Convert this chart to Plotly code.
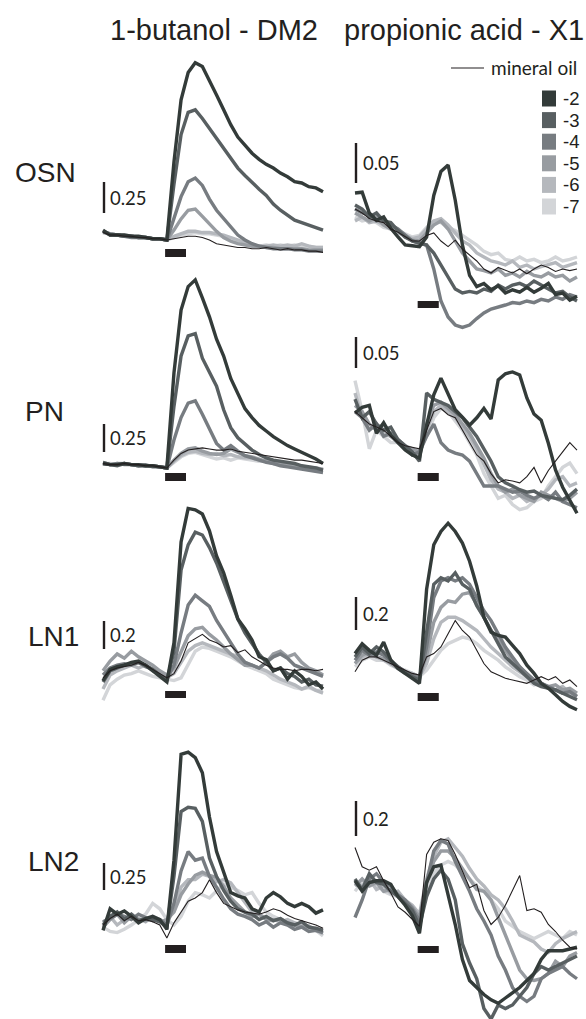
import plotly.graph_objects as go

# ---------------- data ----------------
TIME = list(range(32))
CONCS = ["-2", "-3", "-4", "-5", "-6", "-7"]
MINERAL = "mineral oil"
COLUMN_TITLES = ["1-butanol - DM2", "propionic acid - X1"]
ROW_LABELS = ["OSN", "PN", "LN1", "LN2"]
SCALE_VALUES = [0.25, 0.25, 0.2, 0.25, 0.05, 0.05, 0.2, 0.2]
SCALE_LABELS = ["0.25", "0.25", "0.2", "0.25", "0.05", "0.05", "0.2", "0.2"]
STIM_ON, STIM_OFF = 8.75, 11.7

osn_butanol = {
    "-2": [0.08,0.04,0.04,0.04,0.03,0.03,0.02,0.01,0.01,0.0,0.63,1.13,1.35,1.43,1.40,1.29,1.17,1.05,0.93,0.83,0.76,0.70,0.65,0.61,0.58,0.54,0.51,0.47,0.46,0.43,0.42,0.39],
    "-3": [0.07,0.04,0.04,0.03,0.03,0.02,0.02,0.01,0.01,0.0,0.45,0.85,1.03,1.05,0.98,0.90,0.82,0.74,0.66,0.58,0.52,0.46,0.41,0.36,0.29,0.24,0.20,0.16,0.14,0.12,0.10,0.08],
    "-4": [0.07,0.05,0.04,0.03,0.02,0.02,0.02,0.01,0.01,0.0,0.18,0.35,0.47,0.50,0.44,0.33,0.24,0.17,0.10,0.04,0.0,-0.03,-0.05,-0.06,-0.07,-0.07,-0.07,-0.08,-0.08,-0.09,-0.09,-0.09],
    "-5": [0.07,0.05,0.04,0.03,0.03,0.02,0.02,0.01,0.01,0.0,0.08,0.17,0.24,0.25,0.19,0.13,0.07,0.02,-0.01,-0.03,-0.04,-0.05,-0.05,-0.06,-0.06,-0.07,-0.07,-0.07,-0.07,-0.08,-0.08,-0.08],
    "-6": [0.06,0.05,0.04,0.03,0.03,0.02,0.02,0.01,0.01,0.0,0.03,0.05,0.07,0.07,0.06,0.06,0.05,0.04,0.02,0.0,-0.02,-0.04,-0.05,-0.05,-0.04,-0.05,-0.04,-0.05,-0.03,-0.05,-0.06,-0.06],
    "-7": [0.06,0.05,0.04,0.04,0.03,0.02,0.02,0.01,0.01,0.0,0.02,0.04,0.05,0.06,0.05,0.05,0.04,0.03,0.01,-0.01,-0.03,-0.04,-0.05,-0.04,-0.05,-0.04,-0.05,-0.04,-0.05,-0.05,-0.06,-0.06],
    "mineral oil": [0.06,0.04,0.04,0.03,0.03,0.02,0.02,0.01,0.01,0.0,0.01,0.02,0.03,0.03,0.02,0.0,-0.03,-0.04,-0.05,-0.06,-0.06,-0.07,-0.07,-0.06,-0.07,-0.08,-0.07,-0.08,-0.08,-0.09,-0.09,-0.10],
}

pn_butanol = {
    "-2": [0.04,0.03,0.03,0.04,0.03,0.03,0.02,0.02,0.01,0.0,0.85,1.41,1.62,1.68,1.52,1.35,1.15,1.00,0.80,0.66,0.53,0.45,0.38,0.33,0.28,0.24,0.20,0.17,0.14,0.11,0.08,0.04],
    "-3": [0.05,0.03,0.02,0.04,0.03,0.02,0.02,0.02,0.01,0.0,0.55,1.00,1.18,1.20,0.98,0.86,0.73,0.52,0.36,0.27,0.21,0.16,0.12,0.09,0.07,0.06,0.05,0.04,0.02,0.01,0.0,-0.02],
    "-4": [0.04,0.03,0.04,0.03,0.03,0.02,0.03,0.01,0.01,0.0,0.25,0.45,0.58,0.60,0.48,0.35,0.22,0.16,0.20,0.15,0.11,0.09,0.07,0.05,0.04,0.02,0.01,0.0,-0.01,-0.02,-0.03,-0.04],
    "-5": [0.04,0.03,0.03,0.04,0.03,0.03,0.02,0.02,0.01,0.0,0.07,0.13,0.17,0.18,0.15,0.13,0.12,0.13,0.17,0.14,0.11,0.10,0.08,0.06,0.05,0.04,0.03,0.02,0.01,0.0,-0.01,-0.02],
    "-6": [0.05,0.03,0.04,0.04,0.03,0.02,0.02,0.02,0.01,0.0,0.06,0.11,0.14,0.15,0.13,0.12,0.13,0.11,0.12,0.10,0.09,0.09,0.07,0.06,0.04,0.04,0.02,0.02,0.01,0.0,0.0,-0.01],
    "-7": [0.04,0.04,0.03,0.04,0.03,0.03,0.02,0.01,0.01,0.0,0.05,0.10,0.13,0.14,0.12,0.10,0.08,0.09,0.07,0.09,0.08,0.07,0.06,0.06,0.04,0.03,0.03,0.02,0.01,0.01,0.0,-0.01],
    "mineral oil": [0.04,0.03,0.03,0.04,0.03,0.03,0.02,0.02,0.01,0.0,0.07,0.13,0.16,0.17,0.18,0.17,0.16,0.16,0.17,0.15,0.14,0.13,0.12,0.11,0.10,0.09,0.08,0.07,0.07,0.06,0.05,0.04],
}

ln1_butanol = {
    "-2": [0.01,0.09,0.11,0.12,0.14,0.15,0.12,0.08,0.04,0.0,0.28,1.0,1.24,1.23,1.20,1.08,0.90,0.78,0.62,0.45,0.38,0.30,0.18,0.16,0.08,0.10,0.02,0.08,0.04,-0.02,0.0,-0.05],
    "-3": [0.0,0.08,0.10,0.12,0.13,0.14,0.12,0.09,0.05,0.01,0.22,0.80,0.98,1.07,1.05,0.96,0.85,0.72,0.58,0.45,0.35,0.27,0.20,0.14,0.08,0.10,0.06,0.04,0.0,0.02,-0.02,-0.03],
    "-4": [0.05,0.10,0.12,0.13,0.12,0.14,0.11,0.09,0.05,0.02,0.12,0.35,0.55,0.62,0.58,0.54,0.44,0.36,0.28,0.20,0.14,0.12,0.10,0.14,0.18,0.20,0.17,0.12,0.10,0.08,0.06,0.04],
    "-5": [0.08,0.15,0.20,0.17,0.22,0.18,0.15,0.12,0.08,0.05,0.10,0.22,0.33,0.38,0.39,0.34,0.30,0.25,0.20,0.16,0.12,0.12,0.10,0.14,0.20,0.22,0.18,0.20,0.14,0.10,0.08,0.05],
    "-6": [-0.05,0.05,0.08,0.10,0.12,0.10,0.12,0.08,0.06,0.03,0.06,0.14,0.22,0.26,0.28,0.26,0.24,0.22,0.20,0.18,0.14,0.12,0.10,0.08,0.05,0.02,0.0,-0.02,-0.05,-0.03,-0.06,-0.08],
    "-7": [-0.13,-0.02,0.02,0.05,0.06,0.08,0.06,0.04,0.03,0.02,0.01,0.03,0.12,0.22,0.25,0.24,0.22,0.20,0.18,0.15,0.12,0.10,0.08,0.06,0.02,0.0,-0.02,-0.04,-0.05,-0.04,-0.06,-0.06],
    "mineral oil": [0.03,0.08,0.10,0.11,0.12,0.14,0.12,0.09,0.06,0.03,0.06,0.15,0.28,0.31,0.34,0.30,0.28,0.25,0.26,0.21,0.23,0.18,0.15,0.12,0.10,0.09,0.09,0.08,0.09,0.09,0.08,0.09],
}

ln2_butanol = {
    "-2": [-0.05,0.15,0.10,0.13,0.08,0.02,0.06,0.08,0.05,-0.04,0.60,1.58,1.60,1.55,1.41,1.00,0.68,0.50,0.30,0.27,0.25,0.15,0.12,0.25,0.30,0.26,0.20,0.17,0.20,0.17,0.11,0.14],
    "-3": [0.0,0.08,0.12,0.05,0.10,0.04,0.06,0.05,0.03,-0.02,0.45,1.05,1.09,1.08,0.96,0.62,0.45,0.32,0.22,0.15,0.12,0.10,0.05,0.08,0.04,0.06,0.02,0.0,0.03,-0.02,-0.03,-0.05],
    "-4": [0.03,0.06,0.10,0.08,0.05,0.10,0.07,0.04,0.05,0.0,0.20,0.50,0.68,0.60,0.62,0.45,0.35,0.24,0.15,0.10,0.08,0.05,0.0,0.03,-0.02,0.02,0.0,-0.04,-0.02,-0.06,-0.05,-0.07],
    "-5": [-0.02,0.05,0.10,0.02,0.08,0.05,0.04,0.06,0.03,0.05,0.12,0.28,0.38,0.46,0.49,0.46,0.44,0.36,0.25,0.18,0.12,0.08,0.10,0.05,0.04,0.06,0.02,0.0,-0.02,-0.01,-0.05,-0.06],
    "-6": [0.02,0.08,0.0,0.05,0.10,0.06,0.03,0.08,0.05,0.02,0.15,0.35,0.42,0.42,0.47,0.45,0.40,0.42,0.39,0.30,0.20,0.12,0.10,0.06,0.05,0.03,0.05,0.02,0.0,-0.03,-0.05,-0.08],
    "-7": [-0.02,-0.06,-0.07,-0.04,0.0,0.05,0.10,0.20,0.15,0.05,0.0,0.08,0.22,0.30,0.28,0.25,0.32,0.38,0.35,0.32,0.28,0.30,0.20,0.12,0.08,0.05,0.03,0.02,0.0,-0.02,-0.05,-0.10],
    "mineral oil": [0.0,0.06,0.10,0.04,0.08,0.04,0.05,0.03,0.0,-0.12,0.02,0.12,0.22,0.25,0.30,0.42,0.30,0.20,0.17,0.14,0.12,0.11,0.10,0.12,0.15,0.13,0.09,0.06,0.04,0.02,0.0,-0.03],
}

osn_propionic = {
    "-2": [0.065,0.066,0.04,0.031,0.035,0.021,0.01,0.0,-0.001,-0.002,0.01,0.062,0.092,0.10,0.056,0.0,-0.038,-0.052,-0.048,-0.056,-0.051,-0.06,-0.056,-0.059,-0.053,-0.059,-0.054,-0.048,-0.062,-0.06,-0.069,-0.064],
    "-3": [0.05,0.045,0.035,0.04,0.03,0.028,0.018,0.01,0.005,0.002,0.0,-0.01,-0.025,-0.04,-0.055,-0.06,-0.058,-0.06,-0.055,-0.058,-0.05,-0.055,-0.05,-0.048,-0.052,-0.045,-0.05,-0.055,-0.06,-0.058,-0.065,-0.07],
    "-4": [0.045,0.04,0.038,0.03,0.032,0.025,0.02,0.012,0.005,0.002,0.0,-0.03,-0.07,-0.09,-0.10,-0.103,-0.10,-0.092,-0.085,-0.08,-0.078,-0.075,-0.072,-0.073,-0.07,-0.072,-0.068,-0.07,-0.065,-0.068,-0.062,-0.065],
    "-5": [0.04,0.035,0.03,0.035,0.025,0.02,0.018,0.01,0.006,0.005,0.015,0.025,0.03,0.02,0.005,-0.01,-0.02,-0.03,-0.032,-0.035,-0.03,-0.038,-0.035,-0.04,-0.033,-0.038,-0.04,-0.035,-0.04,-0.038,-0.045,-0.04],
    "-6": [0.03,0.035,0.028,0.03,0.025,0.02,0.015,0.012,0.008,0.01,0.02,0.03,0.033,0.025,0.015,0.005,0.0,-0.01,-0.015,-0.02,-0.022,-0.025,-0.02,-0.028,-0.025,-0.03,-0.027,-0.025,-0.022,-0.028,-0.025,-0.022],
    "-7": [0.035,0.03,0.032,0.028,0.022,0.02,0.018,0.014,0.01,0.012,0.022,0.03,0.028,0.022,0.018,0.012,0.006,0.0,-0.008,-0.012,-0.01,-0.018,-0.02,-0.015,-0.02,-0.018,-0.022,-0.02,-0.015,-0.02,-0.018,-0.015],
    "mineral oil": [0.045,0.04,0.033,0.03,0.028,0.02,0.016,0.01,0.005,0.005,0.012,0.015,0.005,-0.002,0.006,-0.005,-0.012,-0.02,-0.03,-0.035,-0.028,-0.032,-0.035,-0.03,-0.036,-0.03,-0.025,-0.028,-0.033,-0.03,-0.032,-0.03],
}

pn_propionic = {
    "-2": [0.068,0.077,0.08,0.035,0.052,0.032,0.02,0.008,0.0,-0.005,0.048,0.097,0.124,0.097,0.073,0.061,0.048,0.06,0.075,0.058,0.121,0.131,0.134,0.129,0.092,0.066,0.056,0.019,-0.024,-0.052,-0.073,-0.094],
    "-3": [0.09,0.06,0.07,0.05,0.04,0.045,0.025,0.015,0.005,-0.01,0.10,0.09,0.085,0.08,0.07,0.06,0.045,0.03,0.01,-0.01,-0.035,-0.045,-0.05,-0.056,-0.06,-0.058,-0.065,-0.068,-0.07,-0.072,-0.065,-0.055],
    "-4": [0.07,0.06,0.04,0.05,0.03,0.035,0.02,0.012,0.0,0.005,0.03,0.05,0.02,0.008,0.003,0.0,-0.01,-0.03,-0.05,-0.05,-0.05,-0.055,-0.06,-0.058,-0.065,-0.07,-0.065,-0.072,-0.06,-0.075,-0.08,-0.085],
    "-5": [0.08,0.07,0.05,0.04,0.05,0.03,0.025,0.015,0.01,0.005,0.05,0.08,0.085,0.075,0.065,0.05,0.035,0.015,-0.005,-0.03,-0.05,-0.06,-0.055,-0.065,-0.07,-0.075,-0.06,-0.065,-0.07,-0.075,-0.07,-0.06],
    "-6": [0.10,0.06,0.04,0.05,0.035,0.03,0.02,0.01,0.01,0.0,0.04,0.07,0.08,0.07,0.06,0.045,0.03,0.01,-0.015,-0.04,-0.055,-0.06,-0.07,-0.065,-0.075,-0.07,-0.065,-0.055,-0.04,-0.035,-0.05,-0.045],
    "-7": [0.12,0.07,0.01,0.04,0.03,0.02,0.02,0.015,0.0,0.005,0.03,0.06,0.075,0.07,0.055,0.04,0.02,0.0,-0.03,-0.05,-0.07,-0.065,-0.08,-0.088,-0.085,-0.075,-0.07,-0.05,-0.035,-0.02,-0.013,-0.03],
    "mineral oil": [0.07,0.06,0.05,0.045,0.04,0.03,0.02,0.015,0.012,0.01,0.04,0.07,0.075,0.065,0.06,0.04,0.02,0.0,-0.01,-0.03,-0.045,-0.04,-0.042,-0.045,-0.035,-0.02,-0.045,-0.025,-0.01,0.005,0.02,0.008],
}

ln1_propionic = {
    "-2": [0.16,0.22,0.18,0.15,0.23,0.12,0.07,0.04,0.01,-0.02,0.55,0.82,0.90,0.95,0.90,0.83,0.72,0.57,0.38,0.29,0.27,0.26,0.21,0.16,0.09,0.04,-0.02,-0.05,-0.09,-0.13,-0.16,-0.18],
    "-3": [0.14,0.20,0.16,0.20,0.17,0.12,0.08,0.05,0.02,0.0,0.30,0.58,0.62,0.60,0.65,0.58,0.55,0.45,0.38,0.30,0.22,0.14,0.10,0.06,0.02,-0.02,-0.04,-0.05,-0.06,-0.08,-0.10,-0.12],
    "-4": [0.12,0.18,0.15,0.17,0.15,0.11,0.08,0.05,0.03,0.01,0.20,0.50,0.60,0.62,0.60,0.62,0.58,0.50,0.42,0.36,0.28,0.20,0.14,0.08,0.04,0.0,-0.02,-0.04,-0.06,-0.08,-0.07,-0.10],
    "-5": [0.10,0.15,0.17,0.14,0.13,0.10,0.07,0.04,0.03,0.02,0.15,0.35,0.44,0.48,0.47,0.52,0.53,0.46,0.38,0.30,0.24,0.18,0.12,0.08,0.03,0.0,-0.02,-0.04,-0.03,-0.06,-0.05,-0.08],
    "-6": [0.10,0.14,0.16,0.14,0.12,0.10,0.08,0.05,0.04,0.02,0.10,0.25,0.35,0.38,0.38,0.36,0.33,0.30,0.25,0.20,0.16,0.12,0.08,0.05,0.02,0.0,-0.03,-0.05,-0.06,-0.04,-0.08,-0.10],
    "-7": [0.08,0.12,0.14,0.12,0.12,0.09,0.07,0.06,0.04,0.02,0.06,0.12,0.18,0.22,0.24,0.26,0.25,0.22,0.18,0.15,0.12,0.08,0.05,0.02,0.0,-0.03,-0.02,-0.05,-0.06,-0.08,-0.07,-0.10],
    "mineral oil": [0.05,0.12,0.14,0.14,0.12,0.10,0.08,0.06,0.04,0.03,0.14,0.16,0.20,0.28,0.36,0.30,0.26,0.18,0.10,0.05,0.03,0.01,0.0,-0.01,-0.02,0.0,0.02,0.0,0.02,-0.02,0.0,-0.04],
}

ln2_propionic = {
    "-2": [0.11,0.05,0.10,0.11,0.11,0.09,0.02,-0.03,-0.09,-0.19,0.10,0.19,0.20,0.03,-0.14,-0.34,-0.46,-0.50,-0.54,-0.57,-0.59,-0.56,-0.53,-0.50,-0.46,-0.42,-0.34,-0.29,-0.29,-0.29,-0.28,-0.27],
    "-3": [0.12,0.06,0.15,0.10,0.09,0.05,0.02,-0.02,-0.06,-0.15,0.02,0.12,0.17,0.12,0.0,-0.25,-0.36,-0.45,-0.62,-0.68,-0.60,-0.62,-0.60,-0.55,-0.50,-0.42,-0.38,-0.40,-0.38,-0.36,-0.34,-0.32],
    "-4": [-0.10,0.0,0.12,0.15,0.10,0.08,0.03,0.0,-0.05,-0.12,0.10,0.28,0.34,0.32,0.22,0.14,0.05,-0.05,-0.12,-0.20,-0.32,-0.40,-0.50,-0.55,-0.58,-0.55,-0.45,-0.42,-0.40,-0.38,-0.42,-0.45],
    "-5": [0.08,0.12,0.08,0.10,0.05,0.06,0.03,0.0,-0.04,-0.10,0.10,0.22,0.28,0.28,0.24,0.18,0.12,0.06,0.05,0.0,-0.10,-0.20,-0.30,-0.40,-0.45,-0.46,-0.45,-0.42,-0.35,-0.38,-0.32,-0.30],
    "-6": [0.10,0.08,0.12,0.06,0.08,0.04,0.05,0.0,-0.03,-0.08,0.12,0.25,0.33,0.35,0.30,0.25,0.18,0.12,0.08,0.03,0.0,-0.05,-0.12,-0.20,-0.22,-0.24,-0.28,-0.30,-0.25,-0.22,-0.20,-0.18],
    "-7": [0.05,0.10,0.08,0.09,0.05,0.03,0.02,-0.01,-0.05,-0.08,0.05,0.15,0.20,0.22,0.20,0.16,0.12,0.08,0.05,0.0,-0.05,-0.12,-0.15,-0.18,-0.20,-0.22,-0.20,-0.18,-0.20,-0.22,-0.18,-0.20],
    "mineral oil": [0.30,0.19,0.17,0.19,0.11,0.04,-0.04,-0.07,-0.11,-0.15,0.26,0.33,0.35,0.34,0.26,0.16,0.07,0.09,-0.06,-0.14,-0.10,-0.03,0.06,0.14,-0.06,-0.05,-0.07,-0.14,-0.18,-0.23,-0.27,-0.28],
}

PANEL_DATA = [osn_butanol, pn_butanol, ln1_butanol, ln2_butanol,
              osn_propionic, pn_propionic, ln1_propionic, ln2_propionic]

# ---------------- styling / geometry ----------------
W, H = 586, 1019
COLORS = {"-2": "#333b39", "-3": "#585f61", "-4": "#777c81",
          "-5": "#989ca1", "-6": "#b5b8bd", "-7": "#d3d5d8"}
INK = "#231f20"


def px_x(p):
    return p / W


def px_y(p):
    return 1 - p / H


# column pixel geometry (window pixels): first sample x, sample step, domain px
COLS = [dict(x0=103, step=7.097, dl=98, dr=328, bar_px=104, lab_px=108),
        dict(x0=355, step=7.161, dl=350, dr=584, bar_px=356, lab_px=361)]
# per panel: column, domain top/bottom px, px of zero, px per unit, scale-bar bottom px, stim bar px
GEOM = [
    dict(col=0, top=50,  bot=262,  zero=240, ppu=124, sb=213, st=(249, 257)),
    dict(col=0, top=265, bot=486,  zero=468, ppu=112, sb=452, st=(473, 481)),
    dict(col=0, top=495, bot=705,  zero=682, ppu=140, sb=649, st=(691, 698)),
    dict(col=0, top=735, bot=960,  zero=925, ppu=108, sb=890, st=(945, 953)),
    dict(col=1, top=135, bot=335,  zero=245, ppu=800, sb=183, st=(301, 308)),
    dict(col=1, top=330, bot=522,  zero=455, ppu=620, sb=368, st=(473, 481)),
    dict(col=1, top=505, bot=712,  zero=680, ppu=165, sb=630, st=(693, 701)),
    dict(col=1, top=790, bot=1019, zero=900, ppu=175, sb=836, st=(946, 953)),
]

fig = go.Figure()
shapes, annotations = [], []
layout_axes = {}

for k, (data, g) in enumerate(zip(PANEL_DATA, GEOM)):
    n = k + 1
    c = COLS[g["col"]]
    xr = [(c["dl"] - c["x0"]) / c["step"], (c["dr"] - c["x0"]) / c["step"]]
    yr = [(g["zero"] - g["bot"]) / g["ppu"], (g["zero"] - g["top"]) / g["ppu"]]
    xname = "xaxis" if n == 1 else f"xaxis{n}"
    yname = "yaxis" if n == 1 else f"yaxis{n}"
    xa = "x" if n == 1 else f"x{n}"
    ya = "y" if n == 1 else f"y{n}"
    layout_axes[xname] = dict(domain=[max(0, px_x(c["dl"])), min(1, px_x(c["dr"]))],
                              range=xr, visible=False, anchor=ya, fixedrange=True)
    layout_axes[yname] = dict(domain=[max(0, px_y(g["bot"])), min(1, px_y(g["top"]))],
                              range=yr, visible=False, anchor=xa, fixedrange=True)
    for conc in reversed(CONCS):
        fig.add_trace(go.Scatter(x=TIME, y=data[conc], mode="lines", name=conc,
                                 line=dict(color=COLORS[conc], width=3.4),
                                 xaxis=xa, yaxis=ya, showlegend=False, hoverinfo="skip"))
    fig.add_trace(go.Scatter(x=TIME, y=data[MINERAL], mode="lines", name=MINERAL,
                             line=dict(color=INK, width=1.1),
                             xaxis=xa, yaxis=ya, showlegend=False, hoverinfo="skip"))
    # scale bar
    sv = SCALE_VALUES[k]
    y_sb0 = (g["zero"] - g["sb"]) / g["ppu"]
    xb = (c["bar_px"] - c["x0"]) / c["step"]
    shapes.append(dict(type="line", xref=xa, yref=ya, x0=xb, x1=xb, y0=y_sb0, y1=y_sb0 + sv,
                       line=dict(color=INK, width=2.4)))
    annotations.append(dict(text=SCALE_LABELS[k], xref="paper", yref=ya,
                            x=px_x(c["lab_px"]), y=y_sb0 + sv / 2, xanchor="left", yanchor="middle",
                            showarrow=False, font=dict(family="Lato", size=18.5, color=INK)))
    # stimulus bar
    s0, s1 = g["st"]
    shapes.append(dict(type="rect", xref=xa, yref=ya, x0=STIM_ON, x1=STIM_OFF,
                       y0=(g["zero"] - s1) / g["ppu"], y1=(g["zero"] - s0) / g["ppu"],
                       fillcolor=INK, line=dict(width=0)))

# column titles
for title, cx in zip(COLUMN_TITLES, [214, 464]):
    annotations.append(dict(text=title, xref="paper", yref="paper", x=px_x(cx), y=px_y(30),
                            xanchor="center", yanchor="middle", showarrow=False,
                            font=dict(family="Liberation Sans, Arial", size=29, color=INK)))
# row labels
for lab, (lx, ly) in zip(ROW_LABELS, [(13, 173), (23, 411), (26, 636), (26, 861)]):
    annotations.append(dict(text=lab, xref="paper", yref="paper", x=px_x(lx), y=px_y(ly),
                            xanchor="left", yanchor="middle", showarrow=False,
                            font=dict(family="Liberation Sans, Arial", size=28, color=INK)))

# legend
shapes.append(dict(type="line", xref="paper", yref="paper", x0=px_x(451), x1=px_x(484),
                   y0=px_y(68), y1=px_y(68), line=dict(color=INK, width=1.1)))
annotations.append(dict(text=MINERAL, xref="paper", yref="paper", x=px_x(489), y=px_y(68),
                        xanchor="left", yanchor="middle", showarrow=False,
                        font=dict(family="Lato", size=19, color=INK)))
for j, conc in enumerate(CONCS):
    cy = 98.5 + j * 21.6
    shapes.append(dict(type="rect", xref="paper", yref="paper", x0=px_x(542), x1=px_x(556),
                       y0=px_y(cy + 8), y1=px_y(cy - 8),
                       fillcolor=COLORS[conc], line=dict(width=0)))
    annotations.append(dict(text=conc, xref="paper", yref="paper", x=px_x(561), y=px_y(cy),
                            xanchor="left", yanchor="middle", showarrow=False,
                            font=dict(family="Liberation Sans, Arial", size=18.5, color=INK)))

fig.update_layout(width=W, height=H, margin=dict(l=0, r=0, t=0, b=0),
                  paper_bgcolor="white", plot_bgcolor="rgba(0,0,0,0)",
                  shapes=shapes, annotations=annotations, showlegend=False,
                  **layout_axes)

# remove the default page margin so the figure fills the window exactly
fig.write_html("out.html", config={"displayModeBar": False},
               post_script="document.body.style.margin='0';"
                           "document.body.style.overflow='hidden';")
